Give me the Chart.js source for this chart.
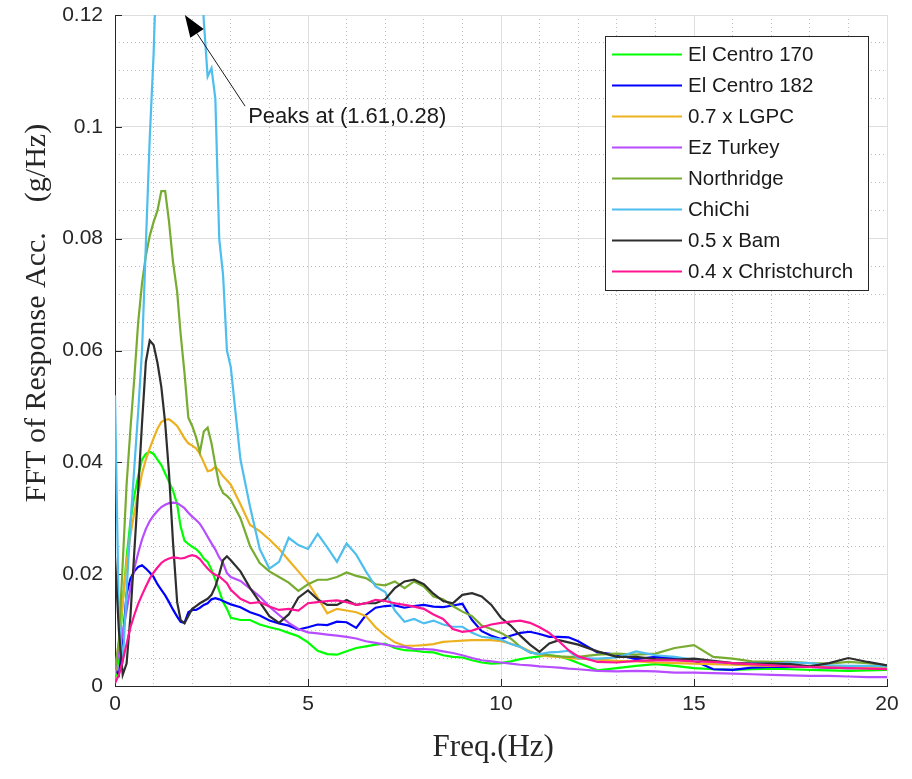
<!DOCTYPE html>
<html>
<head>
<meta charset="utf-8">
<script src="https://cdn.jsdelivr.net/npm/chart.js@4.4.1/dist/chart.umd.min.js"></script>
<style>
  html, body { margin: 0; padding: 0; background: #ffffff; }
  #wrap { width: 912px; height: 779px; }
</style>
</head>
<body>
<div id="wrap"><canvas id="fft" width="912" height="779"></canvas></div>
<script>
// Frequency samples (Hz), shared by every record
const freq = [
  0, 0.1, 0.2, 0.3, 0.4, 0.5, 0.6, 0.7, 0.8, 0.9,
  1.0, 1.1, 1.2, 1.3, 1.4, 1.5, 1.61, 1.7, 1.8, 1.9,
  2.0, 2.1, 2.2, 2.3, 2.4, 2.5, 2.6, 2.7, 2.8, 2.9, 3.0,
  3.25, 3.5, 3.75, 4.0, 4.25, 4.5, 4.75, 5.0, 5.25, 5.5, 5.75, 6.0,
  6.25, 6.5, 6.75, 7.0, 7.25, 7.5, 7.75, 8.0, 8.25, 8.5, 8.75, 9.0,
  9.25, 9.5, 9.75, 10.0, 10.25, 10.5, 10.75, 11.0, 11.25, 11.5, 11.75, 12.0,
  12.5, 13.0, 13.5, 14.0, 14.5, 15.0, 15.5, 16.0, 16.5, 17.0, 17.5, 18.0, 18.5, 19.0, 19.5, 20.0
];

// FFT amplitude of the response acceleration (g/Hz)
const elCentro170 = [
  0.001, 0.005, 0.015, 0.023, 0.0295, 0.034, 0.0375, 0.0405, 0.0415, 0.0419,
  0.0415, 0.0405, 0.0395, 0.038, 0.0365, 0.035, 0.0325, 0.0285, 0.026, 0.0254,
  0.0249, 0.0245, 0.0238, 0.0228, 0.0222, 0.0208, 0.019, 0.017, 0.015, 0.0138, 0.0122,
  0.0118, 0.0118, 0.011, 0.0105, 0.0101, 0.0095, 0.0089, 0.0078, 0.0063, 0.0057, 0.0056, 0.0062,
  0.0068, 0.0071, 0.0074, 0.0076, 0.0068, 0.0064, 0.0063, 0.0061, 0.006, 0.0055, 0.0052, 0.0051,
  0.0046, 0.0042, 0.004, 0.0041, 0.0044, 0.0048, 0.0051, 0.0053, 0.0055, 0.0053, 0.0048, 0.0041,
  0.0028, 0.0032, 0.0036, 0.0039, 0.0036, 0.0032, 0.003, 0.0029, 0.003, 0.0031, 0.003, 0.0029, 0.0028, 0.0027, 0.0028, 0.0029
];
const elCentro182 = [
  0.003, 0.002, 0.008, 0.0165, 0.0192, 0.0205, 0.0213, 0.0216, 0.021, 0.0203,
  0.0195, 0.0182, 0.0172, 0.0162, 0.015, 0.0137, 0.0124, 0.0115, 0.0113, 0.0132,
  0.0136, 0.0136, 0.014, 0.0145, 0.0148, 0.0155, 0.0157, 0.0155, 0.0152, 0.0149, 0.0146,
  0.0141, 0.0132, 0.0126, 0.0117, 0.0112, 0.0108, 0.0101, 0.0105, 0.011, 0.0109, 0.0115, 0.0114,
  0.0104, 0.0127, 0.014, 0.0143, 0.0144, 0.014, 0.0143, 0.0145, 0.0142, 0.0141, 0.0144, 0.0147,
  0.0118, 0.0098, 0.009, 0.0084, 0.009, 0.0095, 0.0097, 0.0093, 0.0088, 0.0088, 0.0087, 0.008,
  0.006, 0.0056, 0.0048, 0.0052, 0.005, 0.0045, 0.003, 0.0029, 0.0033, 0.0034, 0.0034, 0.0034, 0.0033, 0.0032, 0.0033, 0.0033
];
const lgpc = [
  0.002, 0.008, 0.015, 0.022, 0.027, 0.031, 0.0345, 0.038, 0.0405, 0.0425,
  0.0443, 0.046, 0.0472, 0.0476, 0.0477, 0.0472, 0.0465, 0.0455, 0.0443, 0.0434,
  0.043, 0.0425, 0.0415, 0.04, 0.0384, 0.0386, 0.0392, 0.0385, 0.0375, 0.0368, 0.036,
  0.0325, 0.0288, 0.0277, 0.0262, 0.0245, 0.0225, 0.0205, 0.0185, 0.0158, 0.013, 0.0138, 0.0135,
  0.0132, 0.0125, 0.0105, 0.009, 0.0078, 0.0072, 0.0072, 0.0073, 0.0075, 0.0079, 0.008, 0.0081,
  0.0082, 0.0082, 0.0082, 0.008, 0.0076, 0.007, 0.0062, 0.0055, 0.0053, 0.0052, 0.005, 0.0049,
  0.0047, 0.0045, 0.0044, 0.0042, 0.0041, 0.004, 0.0039, 0.0038, 0.0037, 0.0036, 0.0036, 0.0035, 0.0034, 0.0034, 0.0033, 0.0032
];
const ezTurkey = [
  0.003, 0.006, 0.0095, 0.0135, 0.0175, 0.021, 0.0238, 0.0262, 0.0281, 0.0295,
  0.0305, 0.0313, 0.032, 0.0324, 0.0327, 0.0328, 0.0327, 0.0323, 0.0318, 0.031,
  0.0303, 0.0297, 0.029, 0.0279, 0.0267, 0.0255, 0.0244, 0.023, 0.022, 0.0202, 0.0195,
  0.0188, 0.0174, 0.016, 0.0142, 0.0127, 0.0113, 0.0102, 0.0096, 0.0094, 0.0092, 0.009, 0.0088,
  0.0085, 0.008, 0.0077, 0.0074, 0.0071, 0.007, 0.0066, 0.0066, 0.0065, 0.0062, 0.0059, 0.0055,
  0.005, 0.0046, 0.0044, 0.0042, 0.004, 0.0038, 0.0037, 0.0035, 0.0034, 0.0033, 0.0031, 0.003,
  0.0027, 0.0026, 0.0027, 0.0026, 0.0024, 0.0024, 0.0023, 0.0022, 0.0021, 0.002, 0.0019, 0.0018, 0.0018, 0.0017, 0.0016, 0.0016
];
const northridge = [
  0.003, 0.008, 0.022, 0.036, 0.046, 0.055, 0.065, 0.072, 0.077, 0.0805,
  0.083, 0.085, 0.0885, 0.0885, 0.083, 0.076, 0.0705, 0.063, 0.056, 0.048,
  0.0465, 0.0445, 0.0418, 0.0455, 0.0462, 0.0434, 0.0395, 0.036, 0.0345, 0.034, 0.0333,
  0.030, 0.025, 0.022, 0.0205, 0.0195, 0.0185, 0.017, 0.0182, 0.019, 0.019, 0.0195, 0.0203,
  0.0197, 0.0193, 0.0182, 0.018, 0.0187, 0.0175, 0.0187, 0.0178, 0.016, 0.0155, 0.0143, 0.0133,
  0.0125, 0.0108, 0.0102, 0.0095, 0.0085, 0.007, 0.006, 0.0057, 0.0055, 0.0053, 0.0052, 0.0052,
  0.0056, 0.0058, 0.0056, 0.0058, 0.0068, 0.0073, 0.0052, 0.0049, 0.0044, 0.0043, 0.0043, 0.0041, 0.004, 0.0043, 0.0041, 0.0037
];
const chiChi = [
  0.052, 0.012, 0.004, 0.017, 0.029, 0.039, 0.049, 0.06, 0.079, 0.098,
  0.113, 0.135, 0.165, 0.198, 0.232, 0.262, 0.28, 0.266, 0.236, 0.203,
  0.174, 0.15, 0.133, 0.119, 0.109, 0.1105, 0.105, 0.08, 0.0735, 0.06, 0.057,
  0.0405, 0.032, 0.0245, 0.021, 0.0222, 0.0265, 0.0252, 0.0245, 0.0272, 0.0248, 0.0222, 0.0255,
  0.0235, 0.0205, 0.0178, 0.0168, 0.0135, 0.0115, 0.012, 0.0112, 0.0117, 0.011, 0.0106, 0.0106,
  0.0095, 0.0088, 0.0086, 0.0083, 0.0075, 0.007, 0.006, 0.0057, 0.006, 0.0061, 0.0063, 0.005,
  0.0049, 0.0051, 0.0062, 0.0055, 0.0052, 0.0047, 0.0043, 0.0041, 0.0041, 0.004, 0.0042, 0.0041, 0.0037, 0.0036, 0.0036, 0.0035
];
const bam = [
  0.023, 0.010, 0.002, 0.004, 0.0125, 0.024, 0.035, 0.047, 0.058, 0.0618,
  0.061, 0.0578, 0.0535, 0.047, 0.038, 0.026, 0.015, 0.0118, 0.0112, 0.0125,
  0.0138, 0.0143, 0.0148, 0.0152, 0.0156, 0.0163, 0.0178, 0.02, 0.0225, 0.0232, 0.0225,
  0.0205, 0.0175, 0.015, 0.0125, 0.0113, 0.0128, 0.0158, 0.0171, 0.0155, 0.0145, 0.0145, 0.0154,
  0.0145, 0.0148, 0.0148, 0.0155, 0.0175, 0.0187, 0.019, 0.0182, 0.0165, 0.0152, 0.0148, 0.0163,
  0.0166, 0.016, 0.0145, 0.0122, 0.0108, 0.009, 0.0074, 0.0061, 0.0076, 0.0082, 0.0078, 0.0074,
  0.0062, 0.0052, 0.0052, 0.0048, 0.0047, 0.0049, 0.0045, 0.0041, 0.004, 0.004, 0.0039, 0.0035, 0.0041, 0.005, 0.0043, 0.0037
];
const christchurch = [
  0.0005, 0.002, 0.0045, 0.0075, 0.0105, 0.0127, 0.0147, 0.0163, 0.0178, 0.0192,
  0.0203, 0.0212, 0.022, 0.0225, 0.0228, 0.023, 0.0229, 0.0228, 0.0229, 0.0232,
  0.0234, 0.0232, 0.0227, 0.0218, 0.021, 0.0203, 0.0199, 0.0196, 0.019, 0.0184, 0.0172,
  0.0156, 0.0148, 0.015, 0.0142, 0.0136, 0.0138, 0.0135, 0.0148, 0.015, 0.0152, 0.0153, 0.015,
  0.0145, 0.0148, 0.0154, 0.0152, 0.0148, 0.0145, 0.0142, 0.0138, 0.0128, 0.012, 0.0102, 0.0097,
  0.0099, 0.0105, 0.011, 0.0113, 0.0115, 0.0117, 0.0113, 0.0105, 0.0095, 0.008, 0.0064, 0.0053,
  0.0043, 0.0042, 0.0045, 0.0046, 0.0046, 0.0044, 0.0043, 0.0041, 0.0039, 0.0037, 0.0035, 0.0034, 0.0033, 0.0032, 0.0031, 0.003
];

const recordNames = ['El Centro 170', 'El Centro 182', '0.7 x LGPC', 'Ez Turkey',
                     'Northridge', 'ChiChi', '0.5 x Bam', '0.4 x Christchurch'];
const recordValues = [elCentro170, elCentro182, lgpc, ezTurkey, northridge, chiChi, bam, christchurch];

const xTickValues = [0, 5, 10, 15, 20];
const xTickLabels = ['0', '5', '10', '15', '20'];
const yTickValues = [0, 0.02, 0.04, 0.06, 0.08, 0.1, 0.12];
const yTickLabels = ['0', '0.02', '0.04', '0.06', '0.08', '0.1', '0.12'];

// Peak of the ChiChi record, which lies above the plotted range
const peakFreq = 1.61;
const peakValue = 0.28;

const lineColors = ['#00FF00', '#0000FF', '#EDB120', '#B84DFF',
                    '#77AC30', '#4DBEEE', '#2E2E2E', '#FF1493'];

const SANS = '"Liberation Sans", Arial, Helvetica, sans-serif';
const SERIF = '"Liberation Serif", "Times New Roman", serif';
const INK = '#262626';
const NB = '\u00A0';

function labelFor(values, labels, v) {
  let best = 0;
  values.forEach((t, i) => { if (Math.abs(t - v) < Math.abs(values[best] - v)) best = i; });
  return Math.abs(values[best] - v) < 1e-9 ? labels[best] : null;
}
function isMultiple(v, step) {
  return Math.abs(Math.round(v / step) * step - v) < 1e-9;
}

const datasets = recordValues.map((vals, i) => ({
  label: recordNames[i],
  data: freq.map((f, k) => ({ x: f, y: vals[k] })),
  borderColor: lineColors[i],
  backgroundColor: lineColors[i],
  borderWidth: 2.2,
  pointRadius: 0,
  tension: 0,
  fill: false,
  order: recordValues.length - i
}));

// Inward tick marks on the left and bottom axes
const axisTicks = {
  id: 'axisTicks',
  beforeDatasetsDraw(chart) {
    const { ctx, chartArea: a, scales: { x, y } } = chart;
    ctx.save();
    ctx.strokeStyle = INK;
    ctx.lineWidth = 1;
    ctx.beginPath();
    xTickValues.forEach(v => {
      const px = Math.round(x.getPixelForValue(v)) + 0.5;
      ctx.moveTo(px, a.bottom);
      ctx.lineTo(px, a.bottom - 7);
    });
    yTickValues.forEach(v => {
      const py = Math.round(y.getPixelForValue(v)) + 0.5;
      ctx.moveTo(a.left, py);
      ctx.lineTo(a.left + 7, py);
    });
    ctx.stroke();
    ctx.restore();
  }
};

// Arrow and note pointing at the off-scale ChiChi peak
const peakNote = {
  id: 'peakNote',
  afterDatasetsDraw(chart) {
    const { ctx, scales: { x, y } } = chart;
    const tipX = x.getPixelForValue(1.81), tipY = y.getPixelForValue(0.12);
    const tailX = x.getPixelForValue(3.37), tailY = y.getPixelForValue(0.1037);
    const ang = Math.atan2(tailY - tipY, tailX - tipX);
    const headLen = 22, headHalf = 8;
    const bx = tipX + headLen * Math.cos(ang), by = tipY + headLen * Math.sin(ang);
    ctx.save();
    ctx.strokeStyle = '#1a1a1a';
    ctx.fillStyle = '#000000';
    ctx.lineWidth = 1;
    ctx.beginPath();
    ctx.moveTo(tailX, tailY);
    ctx.lineTo(bx, by);
    ctx.stroke();
    ctx.beginPath();
    ctx.moveTo(tipX, tipY);
    ctx.lineTo(bx - headHalf * Math.sin(ang), by + headHalf * Math.cos(ang));
    ctx.lineTo(bx + headHalf * Math.sin(ang), by - headHalf * Math.cos(ang));
    ctx.closePath();
    ctx.fill();
    ctx.font = '22px ' + SANS;
    ctx.textAlign = 'left';
    ctx.textBaseline = 'middle';
    ctx.fillStyle = '#1a1a1a';
    ctx.fillText('Peaks at (' + peakFreq + ',' + peakValue + ')',
                 x.getPixelForValue(3.45), y.getPixelForValue(0.1018));
    ctx.restore();
  }
};

// Boxed legend in the upper right of the plot area
const boxLegend = {
  id: 'boxLegend',
  afterDraw(chart) {
    const { ctx, chartArea: a } = chart;
    const w = 263, h = 254;
    const left = a.right - 282, top = a.top + 21;
    ctx.save();
    ctx.fillStyle = '#ffffff';
    ctx.fillRect(left, top, w, h);
    ctx.strokeStyle = '#262626';
    ctx.lineWidth = 1;
    ctx.strokeRect(left + 0.5, top + 0.5, w, h);
    ctx.font = '20.5px ' + SANS;
    ctx.textAlign = 'left';
    ctx.textBaseline = 'middle';
    chart.data.datasets.forEach((ds, i) => {
      const cy = top + 18.5 + i * 31;
      ctx.strokeStyle = ds.borderColor;
      ctx.lineWidth = 2;
      ctx.beginPath();
      ctx.moveTo(left + 7, cy);
      ctx.lineTo(left + 77, cy);
      ctx.stroke();
      ctx.fillStyle = '#1a1a1a';
      ctx.fillText(ds.label, left + 83, cy + 1);
    });
    ctx.restore();
  }
};

new Chart(document.getElementById('fft'), {
  type: 'line',
  data: { datasets },
  plugins: [axisTicks, peakNote, boxLegend],
  options: {
    responsive: false,
    animation: false,
    devicePixelRatio: 1,
    layout: { padding: { left: 0, right: 25, top: 15, bottom: 0 } },
    plugins: { legend: { display: false }, tooltip: { enabled: false } },
    scales: {
      x: {
        type: 'linear', position: 'bottom', min: 0, max: 20,
        ticks: {
          stepSize: 5, autoSkip: false, maxRotation: 0, padding: 6,
          color: INK, font: { family: SANS, size: 21 },
          callback: v => labelFor(xTickValues, xTickLabels, v)
        },
        grid: { color: '#dedede', lineWidth: 1, drawTicks: false },
        border: { display: true, color: INK, width: 1 },
        title: {
          display: true, text: 'Freq.(Hz)' + NB + NB, color: INK,
          font: { family: SERIF, size: 31 }, padding: { top: 0, bottom: 13 }
        },
        afterFit: s => { s.height = 93; }
      },
      xMinor: {
        type: 'linear', position: 'bottom', min: 0, max: 20,
        ticks: { display: false, stepSize: 1 },
        grid: {
          drawTicks: false, lineWidth: 1,
          color: c => (c.tick && isMultiple(c.tick.value, 5)) ? 'rgba(0,0,0,0)' : '#bdbdbd'
        },
        border: { display: false, dash: [1, 3] },
        afterFit: s => { s.height = 0; }
      },
      y: {
        type: 'linear', position: 'left', min: 0, max: 0.12,
        ticks: {
          stepSize: 0.02, autoSkip: false, padding: 12,
          color: INK, font: { family: SANS, size: 21 },
          callback: v => labelFor(yTickValues, yTickLabels, v)
        },
        grid: { color: '#dedede', lineWidth: 1, drawTicks: false },
        border: { display: true, color: INK, width: 1 },
        title: {
          display: true,
          text: NB.repeat(10) + 'FFT of Response Acc.' + NB.repeat(4) + '(g/Hz)',
          color: INK, font: { family: SERIF, size: 30 }, padding: { top: 19, bottom: 0 }
        },
        afterFit: s => { s.width = 115; s.paddingTop = 0; s.paddingBottom = 0; }
      },
      yMinor: {
        type: 'linear', position: 'left', min: 0, max: 0.12,
        ticks: { display: false, stepSize: 0.005 },
        grid: {
          drawTicks: false, lineWidth: 1,
          color: c => (c.tick && isMultiple(c.tick.value, 0.02)) ? 'rgba(0,0,0,0)' : '#bdbdbd'
        },
        border: { display: false, dash: [1, 3] },
        afterFit: s => { s.width = 0; s.paddingTop = 0; s.paddingBottom = 0; }
      }
    }
  }
});
</script>
</body>
</html>
